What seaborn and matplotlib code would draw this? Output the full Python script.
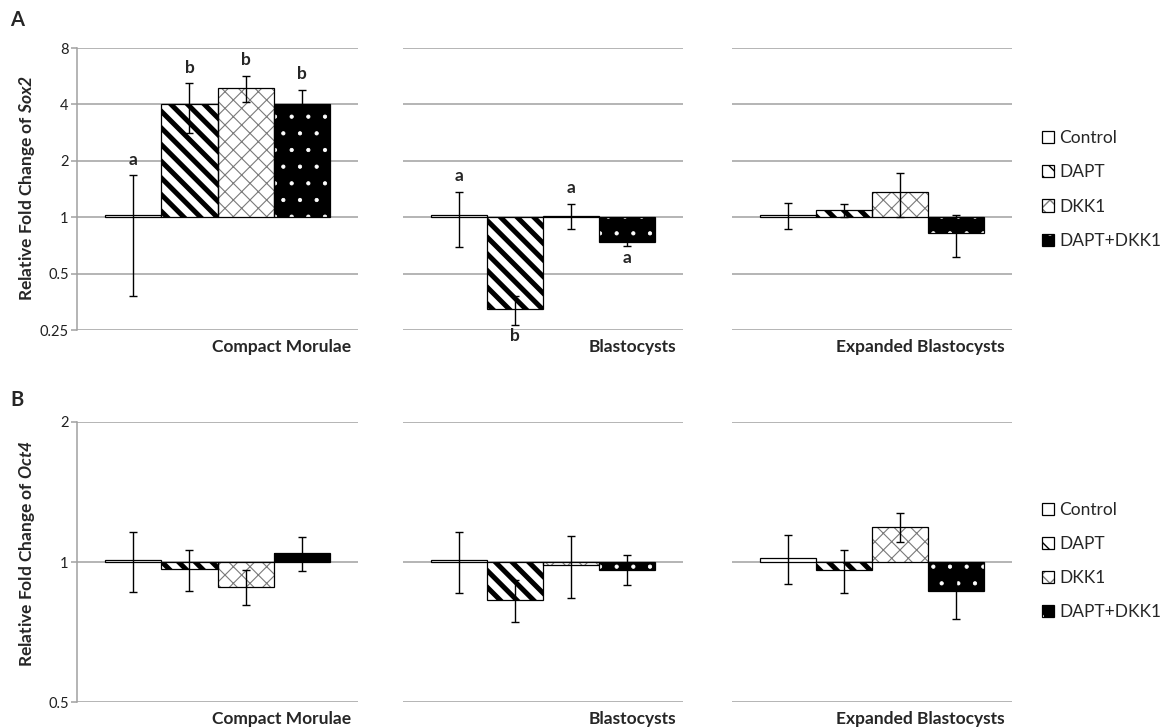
import numpy as np
import matplotlib.pyplot as plt
import pandas as pd
import seaborn as sns
from matplotlib.patches import Patch, Rectangle
from matplotlib.legend_handler import HandlerTuple

stages = ['Compact Morulae', 'Blastocysts', 'Expanded Blastocysts']
treatments = ['Control', 'DAPT', 'DKK1', 'DAPT+DKK1']

# panel A: Sox2 fold change (mean, linear error) per stage
sox2_mean = [[1.03, 4.0, 4.9, 4.0],
             [1.03, 0.324, 1.02, 0.74],
             [1.03, 1.09, 1.36, 0.82]]
sox2_err = [[0.65, 1.2, 0.8, 0.8],
            [0.34, 0.057, 0.16, 0.04],
            [0.16, 0.09, 0.36, 0.21]]
sox2_letters = [['a', 'b', 'b', 'b'],
                ['a', 'b', 'a', 'a'],
                ['', '', '', '']]

# panel B: Oct4
oct4_mean = [[1.01, 0.965, 0.885, 1.045],
             [1.01, 0.83, 0.985, 0.963],
             [1.02, 0.96, 1.19, 0.865]]
oct4_err = [[0.148, 0.097, 0.077, 0.088],
            [0.15, 0.085, 0.15, 0.072],
            [0.125, 0.1, 0.085, 0.11]]

sox2_ticks = [0.25, 0.5, 1, 2, 4, 8]
oct4_ticks = [0.5, 1, 2]

sns.set_theme(style='white')
plt.rcParams['font.family'] = ['Lato', 'DejaVu Sans']
plt.rcParams['mathtext.fontset'] = 'custom'
plt.rcParams['mathtext.bfit'] = 'Lato:italic:bold'
plt.rcParams['mathtext.bf'] = 'Lato:bold'

# fill, hatch, hatch colour, hatch width
styles = {
    'Control': ('white', '', 'black', 1.0),
    'DAPT': ('white', '\\\\', 'black', 3.6),
    'DKK1': ('white', 'xx', '#7a7a7a', 0.8),
    'DAPT+DKK1': ('black', '.', 'white', 0.6),
}

W, H = 1166, 727
fig = plt.figure(figsize=(W / 100, H / 100), dpi=100)
col_x = [(77, 358), (403, 683), (732, 1012)]
row_y = [(48, 330), (421.7, 702.3)]
label_y = [188, 554]
grid_c = '#a0a0a0'


def style_bar(ax, patch, name):
    face, hatch, hc, hlw = styles[name]
    patch.set_facecolor(face)
    patch.set_edgecolor(hc)
    patch.set_linewidth(0)
    patch.set_hatch(hatch)
    if hasattr(patch, 'set_hatch_linewidth'):
        patch.set_hatch_linewidth(hlw)
    ax.add_patch(Rectangle((patch.get_x(), patch.get_y()), patch.get_width(),
                           patch.get_height(), fill=False, edgecolor='black',
                           linewidth=0.9, zorder=patch.get_zorder() + 0.1))


def draw_row(r, means, errs, ticks, ylim, ylabel, letters=None):
    y0, y1 = row_y[r]
    for c, stage in enumerate(stages):
        x0, x1 = col_x[c]
        ax = fig.add_axes([x0 / W, 1 - y1 / H, (x1 - x0) / W, (y1 - y0) / H])
        df = pd.DataFrame({'stage': stage, 'treatment': treatments,
                           'val': np.log2(means[c])})
        sns.barplot(data=df, x='stage', y='val', hue='treatment',
                    hue_order=treatments, errorbar=None, width=0.8,
                    legend=False, ax=ax)
        bars = list(ax.containers)
        for cont, name in zip(bars, treatments):
            for p in cont:
                style_bar(ax, p, name)
        for i, cont in enumerate(bars):
            p = cont[0]
            xc = p.get_x() + p.get_width() / 2
            m, e = means[c][i], errs[c][i]
            lo, hi = np.log2(m - e), np.log2(m + e)
            ym = np.log2(m)
            ax.errorbar([xc], [ym], yerr=[[ym - lo], [hi - ym]], fmt='none',
                        ecolor='black', elinewidth=1.0, capsize=2.6,
                        capthick=1.0, zorder=5)
            if letters and letters[c][i]:
                up = m >= 1
                ax.annotate(letters[c][i], (xc, hi if up else lo),
                            xytext=(0, 7.5 if up else -12),
                            textcoords='offset points', ha='center',
                            va='baseline', fontsize=12.5, fontweight='bold')
        ax.set_ylim(*ylim)
        ax.set_yticks(np.log2(ticks))
        ax.set_yticklabels([f'{t:g}' for t in ticks])
        ax.set_xlim(-0.5, 0.5)
        ax.set_xticks([])
        ax.set_xlabel('')
        ax.set_ylabel('')
        ax.yaxis.grid(True, color=grid_c, linewidth=1.1)
        ax.set_axisbelow(True)
        for s in ['top', 'right', 'bottom']:
            ax.spines[s].set_visible(False)
        if c == 0:
            ax.spines['left'].set_color(grid_c)
            ax.spines['left'].set_linewidth(1.1)
            ax.tick_params(axis='y', left=True, length=4, color=grid_c,
                           width=1.1, labelsize=10.5, labelcolor='#202020',
                           pad=2)
        else:
            ax.spines['left'].set_visible(False)
            ax.tick_params(axis='y', left=False, labelleft=False)
        ax.annotate(stage, (0.975, 0), xycoords='axes fraction',
                    xytext=(0, -12), textcoords='offset points', ha='right',
                    va='center', fontsize=12.5, fontweight='bold')
    fig.text(27 / W, 1 - label_y[r] / H, ylabel, rotation=90,
             ha='center', va='center', fontsize=12.5, fontweight='bold')


draw_row(0, sox2_mean, sox2_err, sox2_ticks, (-2, 3),
         r'Relative Fold Change of $\mathbfit{Sox2}$', sox2_letters)
draw_row(1, oct4_mean, oct4_err, oct4_ticks, (-1, 1),
         r'Relative Fold Change of $\mathbfit{Oct4}$')

fig.text(17 / W, 1 - 20 / H, 'A', fontsize=14.5, fontweight='bold',
         ha='center', va='center')
fig.text(17 / W, 1 - 400 / H, 'B', fontsize=14.5, fontweight='bold',
         ha='center', va='center')


def legend_handle(name):
    face, hatch, hc, hlw = styles[name]
    inner = Patch(facecolor=face, edgecolor=hc, linewidth=0, hatch=hatch)
    if hasattr(inner, 'set_hatch_linewidth'):
        inner.set_hatch_linewidth(min(hlw, 2.0))
    outer = Patch(fill=False, edgecolor='black', linewidth=0.9)
    return (inner, outer)


handles = [legend_handle(n) for n in treatments]
for yc in [189.5, 561]:
    fig.legend(handles, treatments, loc='center left',
               bbox_to_anchor=(1033 / W, 1 - yc / H), frameon=False,
               fontsize=12.5, handlelength=0.7, handleheight=0.7,
               handletextpad=0.3, labelspacing=1.05, borderpad=0,
               handler_map={tuple: HandlerTuple(ndivide=1)})

fig.savefig('out.png', dpi=100)
